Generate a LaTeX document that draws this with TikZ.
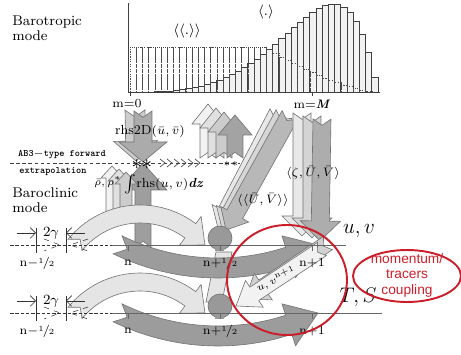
\documentclass[tikz,border=0pt]{standalone}
\usepackage{fontspec}
\newfontfamily\notesf{Liberation Sans}
\usetikzlibrary{arrows.meta}

\definecolor{ringred}{RGB}{204,30,42}

% straight block arrow: style, x1, y1, x2, y2, shaft half width, head half width, head length
\newcommand{\blockarrow}[8]{%
  \pgfmathsetmacro\baang{-atan2((#5)-(#3),(#4)-(#2))}%
  \pgfmathsetmacro\balen{veclen((#4)-(#2),(#5)-(#3))}%
  \pgfmathsetmacro\babase{\balen-(#8)}%
  \filldraw[#1, shift={(#2,#3)}, rotate=\baang]
    (0,-#6) -- (\babase,-#6) -- (\babase,-#7) -- (\balen,0)
    -- (\babase,#7) -- (\babase,#6) -- (0,#6) -- ({0.7*#6},0) -- cycle;}

% bent block arrow: style, cx, cy, r, tail angle, head angle, tip angle, shaft half width, head half width
\newcommand{\bentarrow}[9]{%
  \filldraw[#1]
    plot[domain=#5:#6, samples=30] ({#2+(#4+#8)*cos(\x)},{#3+(#4+#8)*sin(\x)})
    -- ({#2+(#4+#9)*cos(#6)},{#3+(#4+#9)*sin(#6)})
    -- ({#2+#4*cos(#7)},{#3+#4*sin(#7)})
    -- ({#2+(#4-#9)*cos(#6)},{#3+(#4-#9)*sin(#6)})
    -- plot[domain=#6:#5, samples=30] ({#2+(#4-#8)*cos(\x)},{#3+(#4-#8)*sin(\x)})
    -- ({#2+#4*cos(#5+0.06*(#6-#5))},{#3+#4*sin(#5+0.06*(#6-#5))})
    -- cycle;}

\newcommand{\halfstep}{\raisebox{0.5ex}{\fontsize{4.5}{5}\selectfont 1}\kern-0.08em/\kern-0.08em{\fontsize{4.5}{5}\selectfont 2}}

\begin{document}
\begin{tikzpicture}[x=0.02cm, y=-0.02cm,
    font=\fontsize{7}{8}\selectfont,
    bar/.style={fill=black!5, draw=black!75, line width=0.35pt},
    ghostbar/.style={draw=black!70, line width=0.3pt, dash pattern=on 0.7pt off 0.7pt},
    axis/.style={draw=black!75, line width=0.5pt},
    slab/.style={fill=black!#1, draw=black!55, line width=0.35pt},
    timeline/.style={draw=black!60, line width=0.45pt},
    gapmark/.style={draw=black!80, line width=0.4pt},
    lbl/.style={inner sep=0pt},
    modename/.style={inner sep=0pt, anchor=north west, align=left, font=\fontsize{8}{8.5}\selectfont},
    ab3/.style={inner sep=0pt, font=\fontsize{5.6}{6}\selectfont\ttfamily\bfseries},
    bigvar/.style={inner sep=0pt, font=\fontsize{13}{13}\selectfont},
    ring/.style={draw=ringred, line width=1.1pt}
]
\useasboundingbox (0,0) rectangle (461,355);

% Barotropic weights
\foreach \i in {0,...,39} {
  \pgfmathsetmacro\barfrac{(\i+0.5)/40}
  \pgfmathsetmacro\barh{253.6*\barfrac^3*(1-\barfrac^5)}
  \draw[bar] ({130+6.2*\i},92) rectangle ({136.2+6.2*\i},{92-\barh});
}
\foreach \i in {0,...,39} {
  \pgfmathsetmacro\barmid{133.1+6.2*\i}
  \pgfmathsetmacro\ghosth{\barmid<265 ? 45 : 45*max(0.001,1-(\barmid-265)/112)^1.5}
  \draw[ghostbar] ({130+6.2*\i},92) rectangle ({136.2+6.2*\i},{92-\ghosth});
}
\draw[axis] (128,3) -- (128,92) -- (380,92);
\draw[axis] (130,92) -- (130,96) (312,92) -- (312,96);

\node[modename] (barotropic) at (12,16) {Barotropic\\mode};
\node[lbl, font=\fontsize{8}{8}\selectfont] (avgtwo) at (187,31) {$\langle\langle.\rangle\rangle$};
\node[lbl, font=\fontsize{8}{8}\selectfont] (avgone) at (266,12) {$\langle.\rangle$};
\node[lbl] (mzero) at (127,104) {m=0};
\node[lbl] (mlast) at (312,104) {m=\textbf{\textit{M}}};

% Diagonal <<U,V>> arrows
\blockarrow{slab=9}{278}{113}{218}{228}{9}{16}{18}
\blockarrow{slab=16}{284}{114}{222}{229}{9}{16}{18}
\blockarrow{slab=28}{290}{115}{226}{230}{9}{16}{18}

% Vertical <zeta,U,V> arrows
\blockarrow{slab=9}{302}{113}{302}{236}{9}{20}{20}
\blockarrow{slab=17}{312}{116}{312}{238}{9}{20}{20}
\blockarrow{slab=32}{322}{119}{320}{241}{9}{20}{20}

% Bridge between the two n+1/2 knobs
\filldraw[slab=10] (216,252) -- (232,252) -- (222,302) -- (206,302) -- cycle;

% Vertical integral going up
\blockarrow{slab=38}{143}{247}{143}{163}{8}{24}{27}

% Density arrows
\blockarrow{slab=5}{112}{215}{112}{166}{6}{11}{12}
\blockarrow{slab=12}{119}{215}{119}{169}{6}{11}{12}
\blockarrow{slab=20}{126}{215}{126}{172}{6}{11}{12}

% Baroclinic steps: light arcs above, dark arcs below
\foreach \dy in {0,68}
  \bentarrow{slab=10}{140}{297.6+\dy}{83.6}{219}{307}{321}{9}{18};
\foreach \ky in {238,306} {
  \filldraw[slab=40] (220,\ky) circle[radius=12];
  \fill[black!40] (215.5,\ky+5) rectangle (224.5,\ky+13);
}
\foreach \dy in {0,68}
  \bentarrow{slab=39}{218}{39+\dy}{229}{116}{72}{64.1}{10}{22};

% Coupling arrow u,v^{n+1}
\blockarrow{slab=18}{328}{243}{245}{299}{8}{16}{22}
\blockarrow{slab=5}{322}{249}{236}{306}{8}{16}{22}

% Forward extrapolation fan
\blockarrow{slab=5}{208}{158}{208}{104}{8}{16}{20}
\blockarrow{slab=12}{216}{158}{216}{108}{8}{16}{20}
\blockarrow{slab=20}{224}{158}{224}{112}{8}{16}{20}
\blockarrow{slab=36}{235}{158}{235}{115}{8}{17}{20}

% rhs2D going down
\blockarrow{slab=20}{135}{110}{136}{161}{10}{22}{20}
\blockarrow{slab=33}{143}{111}{143}{162}{9}{24}{20}

% AB3 line
\draw[black!75, line width=0.4pt, dash pattern=on 2pt off 1.5pt] (10,163) -- (240,163);
\foreach \k in {0,...,5}
  \draw[black!70, line width=0.4pt] ({160+7*\k},159) -- ({165+7*\k},163) -- ({160+7*\k},167);
\node[ab3] (ab3top) at (62,154) {AB3$-$type forward};
\node[ab3] (ab3bottom) at (53,172) {extrapolation};
\node[lbl, font=\fontsize{13}{13}\selectfont\bfseries] (stara) at (137,165) {$\ast$};
\node[lbl, font=\fontsize{13}{13}\selectfont\bfseries] (starb) at (147,165) {$\ast$};
\node[lbl, font=\fontsize{6}{6}\selectfont] (starc) at (227,164) {$\ast$};
\node[lbl, font=\fontsize{6}{6}\selectfont] (stard) at (235,164) {$\ast$};

% Time axes
\node[modename] (baroclinic) at (12,187) {Baroclinic\\mode};
\foreach \ly/\lend in {245/346,313/382} {
  \draw[timeline] (112,\ly) -- (\lend,\ly);
  \draw[timeline, black!80, dash pattern=on 2pt off 1pt] (10,\ly) -- (112,\ly);
  \foreach \tx in {128,220,312}
    \draw[timeline] (\tx,\ly) -- (\tx,\ly+6);
  \draw[gapmark] (36,\ly-17) -- (36,\ly+8) (66,\ly-17) -- (66,\ly+8);
  \draw[gapmark, -{Straight Barb[length=3pt]}] (17,\ly-12) -- (36,\ly-12);
  \draw[gapmark, -{Straight Barb[length=3pt]}] (85,\ly-12) -- (66,\ly-12);
  \draw[gapmark, dashed, line width=0.3pt] (44,\ly-6) -- (60,\ly) -- (44,\ly+6);
  \draw[gapmark, dashed, line width=0.3pt] (88,\ly-6) -- (70,\ly) -- (88,\ly+6);
  \node[lbl, font=\fontsize{8.5}{9}\selectfont] (gap-\ly) at (51,\ly-12) {$2\gamma$};
  \node[lbl] (nmh-\ly) at (37,\ly+18) {n$-$\halfstep};
  \node[lbl] (n-\ly) at (128,\ly+18) {n};
  \node[lbl] (nph-\ly) at (220,\ly+18) {n$+$\halfstep};
  \node[lbl] (np-\ly) at (312,\ly+18) {n$+$1};
}

% Arrow labels
\node[lbl, font=\fontsize{7.5}{7.5}\selectfont] (rhstwod) at (150,131) {rhs2D$(\bar u,\bar v)$};
\node[lbl, font=\fontsize{7.5}{7.5}\selectfont] (rhsint) at (164,184) {$\int$rhs$(u,v)$\textbf{\textit{dz}}};
\node[lbl, font=\fontsize{6.5}{6.5}\selectfont] (rho) at (108,182) {$\bar\rho,\rho^{*}$};
\node[lbl, font=\fontsize{7}{7}\selectfont] (uvavg) at (263,200) {$\langle\langle\bar U,\bar V\rangle\rangle$};
\node[lbl, font=\fontsize{7}{7}\selectfont] (zetauv) at (313,173) {$\langle\zeta,\bar U,\bar V\rangle$};
\node[lbl, rotate=24, font=\fontsize{6.5}{6.5}\selectfont] (uvnew) at (276,279) {$u,v^{\mathrm{n+1}}$};
\node[bigvar] (uv) at (359,231) {$u,v$};
\node[bigvar] (ts) at (358,297) {$T,S$};

% Momentum / tracers coupling
\draw[ring] (287,280) ellipse[x radius=60, y radius=55];
\draw[ring] (407,276) ellipse[x radius=54, y radius=26];
\node[lbl, align=center, text=ringred, font=\fontsize{7.8}{8.8}\selectfont\notesf] (coupling) at (407,275) {momentum/\\tracers\\coupling};

\end{tikzpicture}
\end{document}
